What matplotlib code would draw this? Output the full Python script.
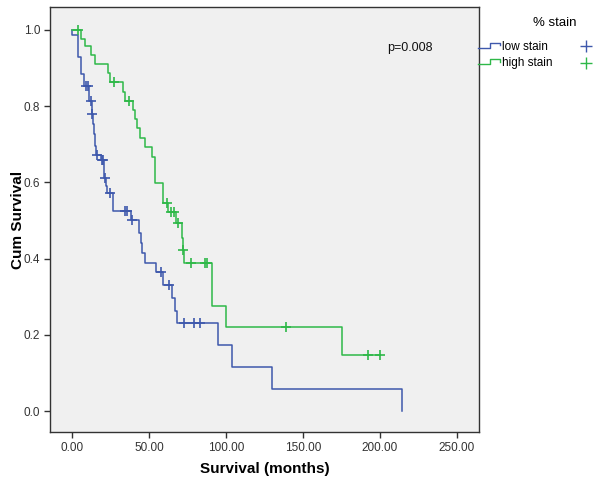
import matplotlib
matplotlib.use("Agg")
import matplotlib.pyplot as plt
from matplotlib.lines import Line2D

plt.rcParams['font.family'] = ['Liberation Sans', 'DejaVu Sans']

# ---- data ----
low_times = [0.0, 0.3, 3.7, 4.2, 5.8, 7.8, 11.0, 12.7, 13.6, 14.3, 14.9, 15.3, 18.5, 20.6, 22.1, 22.4,
             26.8, 26.9, 38.3, 43.7, 44.5, 45.3, 47.4, 54.5, 58.9, 64.7, 66.9, 68.0, 94.8, 103.9, 129.9, 214.3]
low_surv = [1.0, 0.987, 0.958, 0.929, 0.885, 0.853, 0.814, 0.779, 0.753, 0.727, 0.696, 0.672, 0.658, 0.612,
            0.591, 0.572, 0.549, 0.526, 0.500, 0.467, 0.441, 0.415, 0.388, 0.365, 0.331, 0.297, 0.262,
            0.231, 0.173, 0.115, 0.058, 0.0]
low_cens_t = [9.1, 10.4, 12.3, 13.0, 16.4, 19.3, 20.3, 21.4, 24.7, 34.4, 35.5, 39.0, 57.8, 63.2, 72.9, 79.4, 83.1]
low_cens_s = [0.853, 0.853, 0.814, 0.779, 0.672, 0.658, 0.658, 0.612, 0.572, 0.526, 0.526, 0.500, 0.365,
              0.331, 0.231, 0.231, 0.231]

high_times = [0.0, 5.8, 8.4, 12.3, 14.9, 23.6, 24.7, 32.9, 34.4, 39.8, 40.9, 42.0, 44.2, 47.4, 51.8, 53.9,
              54.2, 58.9, 62.5, 67.5, 71.2, 71.8, 72.8, 90.6, 100.0, 175.3, 200.0]
high_surv = [1.0, 0.976, 0.958, 0.934, 0.911, 0.887, 0.864, 0.838, 0.814, 0.790, 0.766, 0.743, 0.717, 0.693,
             0.667, 0.633, 0.598, 0.546, 0.522, 0.493, 0.454, 0.423, 0.388, 0.276, 0.220, 0.147, 0.147]
high_cens_t = [4.1, 27.3, 37.2, 61.9, 64.1, 66.2, 69.0, 72.3, 77.1, 86.4, 87.9, 139.0, 192.5, 200.0]
high_cens_s = [1.0, 0.864, 0.814, 0.546, 0.522, 0.522, 0.493, 0.423, 0.388, 0.388, 0.388, 0.220, 0.147, 0.147]

groups = ['low stain', 'high stain']
x_ticks = [0, 50, 100, 150, 200, 250]
y_ticks = [0.0, 0.2, 0.4, 0.6, 0.8, 1.0]
p_text = 'p=0.008'

BLUE = '#3E58AC'
GREEN = '#2EB848'

W, H = 608, 493
fig = plt.figure(figsize=(W / 100, H / 100), dpi=100)
fig.patch.set_facecolor('white')

def fx(px):
    return px / W

def fy(py):
    return 1 - py / H

ax = fig.add_axes([fx(50), fy(432), fx(479) - fx(50), fy(7) - fy(432)])
ax.set_facecolor('#F0F0F0')

ax.step(low_times, low_surv, where='post', color=BLUE, lw=1.1)
ax.step(high_times, high_surv, where='post', color=GREEN, lw=1.1)
ax.plot(low_cens_t, low_cens_s, ls='none', marker='+', ms=6.5, mew=1.2, color=BLUE)
ax.plot(high_cens_t, high_cens_s, ls='none', marker='+', ms=6.5, mew=1.2, color=GREEN)

ax.set_xlim(-14.3, 264.3)
ax.set_ylim(-0.055, 1.060)
ax.set_xticks(x_ticks)
ax.set_xticklabels([f'{v:.2f}' for v in x_ticks])
ax.set_yticks(y_ticks)
ax.set_yticklabels([f'{v:.1f}' for v in y_ticks])
ax.tick_params(axis='both', direction='out', length=4, width=1, color='#333333',
               labelsize=8.5, labelcolor='#333333', pad=3)
for s in ax.spines.values():
    s.set_color('#333333')
    s.set_linewidth(1.0)

ax.set_xlabel('Survival (months)', fontsize=11, fontweight='bold', labelpad=6)
ax.set_ylabel('Cum Survival', fontsize=11, fontweight='bold', labelpad=-1)

ax.text(219.5, 0.953, p_text, ha='center', va='center', fontsize=9, color='#111111')

# ---- legend (outside on the right) ----
fig.text(fx(555), fy(23), '% stain', ha='center', va='center', fontsize=9.5)
leg_colors = [BLUE, GREEN]
leg_y = [46.5, 63.0]
for name, col, yy in zip(groups, leg_colors, leg_y):
    xs = [478, 490, 490, 500, 500]
    ys = [yy + 1, yy + 1, yy - 4, yy - 4, yy - 1.5]
    fig.add_artist(Line2D([fx(v) for v in xs], [fy(v) for v in ys], color=col, lw=1.0))
    fig.text(fx(502.5), fy(yy), name, ha='left', va='center', fontsize=8.5)
    fig.add_artist(Line2D([fx(586)], [fy(yy - 0.5)], marker='+', ms=9, mew=1.0, color=col, ls='none'))

fig.savefig('out.png', dpi=100)
